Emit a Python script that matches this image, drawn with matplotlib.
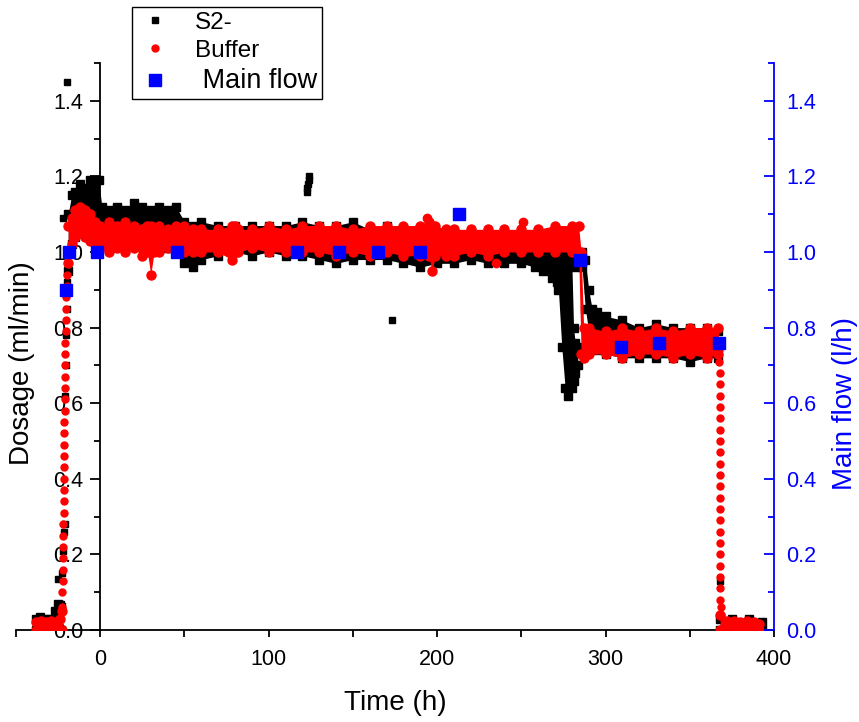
import matplotlib.pyplot as plt
import numpy as np
from matplotlib.lines import Line2D
from matplotlib.ticker import MultipleLocator, FormatStrFormatter

plt.rcParams['font.family'] = ['Liberation Sans', 'DejaVu Sans']

# S2- dosage (ml/min): time (h) with lower / upper edge of the dense point cloud
s2_t = [-19, -17, -15, -12, -9, -6, -3, -1, 1, 5, 10, 15, 20, 25, 30, 35, 40, 45,
        50, 55, 60, 70, 80, 90, 100, 110, 120, 130, 140, 150, 160, 170, 180, 190,
        200, 210, 220, 230, 240, 250, 258, 263, 268, 271, 274, 278, 282, 286, 288,
        290, 292, 295, 300, 310, 320, 330, 340, 350, 360, 367]
s2_hi = [1.10, 1.15, 1.16, 1.18, 1.17, 1.19, 1.18, 1.19, 1.12, 1.11, 1.12, 1.11, 1.13,
         1.12, 1.11, 1.12, 1.11, 1.12, 1.08, 1.07, 1.08, 1.07, 1.07, 1.07, 1.07, 1.07,
         1.08, 1.07, 1.07, 1.08, 1.06, 1.07, 1.06, 1.06, 1.05, 1.05, 1.05, 1.04, 1.04,
         1.04, 1.03, 1.02, 1.01, 1.00, 0.99, 0.99, 1.00, 1.00, 0.98, 0.90, 0.85, 0.84,
         0.83, 0.82, 0.80, 0.81, 0.80, 0.80, 0.80, 0.79]
s2_lo = [0.95, 1.02, 1.04, 1.05, 1.05, 1.05, 1.04, 1.04, 1.02, 1.02, 1.02, 1.02, 1.02,
         1.02, 1.02, 1.02, 1.01, 1.00, 0.97, 0.96, 0.98, 0.99, 1.00, 0.99, 1.00, 0.99,
         0.99, 0.98, 0.97, 0.98, 0.98, 0.98, 0.97, 0.96, 0.97, 0.97, 0.98, 0.97, 0.97,
         0.97, 0.96, 0.95, 0.93, 0.92, 0.95, 0.96, 0.96, 0.96, 0.85, 0.79, 0.76, 0.74,
         0.73, 0.72, 0.72, 0.72, 0.72, 0.71, 0.72, 0.72]
# S2- dip before the flow change
s2_dip_t = [270, 272, 274, 276, 278, 280, 281, 282, 283.5]
s2_dip_lo = [0.95, 0.90, 0.75, 0.64, 0.62, 0.64, 0.66, 0.68, 0.70]
s2_dip_hi = [0.99, 0.98, 0.98, 0.98, 0.97, 0.97, 0.80, 0.76, 0.75]
# S2- start-up / shut-down baseline
s2_base1_t = [-38, -36, -33, -30, -27, -25, -23]
s2_base1_hi = [0.03, 0.035, 0.03, 0.03, 0.05, 0.07, 0.06]
s2_base2_t = [368, 375, 385, 393]
s2_base2_hi = [0.03, 0.03, 0.03, 0.02]
# S2- single points (ramp and outliers)
s2_pts_t = [-25, -23.5, -22.5, -22, -21.5, -21.2, -20.8, -20.5, -20.2, -20, -19.8,
            -22, -20, 123, 123, 123.5, 124, 124, 173, 368, 367.5]
s2_pts_y = [0.135, 0.07, 0.15, 0.21, 0.26, 0.28, 0.62, 0.70, 0.78, 0.85, 0.92,
            1.09, 1.45, 1.16, 1.17, 1.18, 1.19, 1.20, 0.82, 0.13, 0.76]

# Buffer dosage (ml/min)
buf_t = [-19, -17, -15, -12, -9, -6, -3, 0, 5, 10, 15, 20, 25, 28, 30, 32, 35, 40, 45,
         50, 55, 60, 70, 78, 80, 82, 90, 100, 110, 120, 130, 140, 150, 160, 170, 180,
         190, 195, 197, 199, 205, 210, 220, 230, 240, 250, 260, 270, 280, 284, 285.5,
         287, 290, 300, 310, 320, 330, 340, 350, 360, 367]
buf_lo = [0.97, 1.02, 1.04, 1.05, 1.04, 1.03, 1.02, 1.01, 1.00, 1.01, 1.00, 1.01, 0.99,
          1.00, 0.94, 1.00, 1.00, 1.01, 1.00, 1.00, 1.00, 1.00, 1.00, 0.98, 1.00, 1.00,
          1.01, 1.00, 1.00, 1.00, 1.00, 0.99, 1.00, 0.99, 1.00, 0.99, 0.99, 0.99, 0.95,
          0.99, 0.99, 0.99, 1.00, 0.99, 1.00, 1.00, 1.00, 1.00, 1.00, 1.00, 0.73, 0.72,
          0.73, 0.73, 0.72, 0.73, 0.73, 0.72, 0.73, 0.72, 0.73]
buf_hi = [1.07, 1.09, 1.11, 1.12, 1.11, 1.10, 1.08, 1.07, 1.08, 1.07, 1.08, 1.07, 1.06,
          1.07, 1.07, 1.06, 1.07, 1.06, 1.07, 1.07, 1.06, 1.06, 1.06, 1.07, 1.07, 1.06,
          1.06, 1.07, 1.06, 1.07, 1.07, 1.07, 1.06, 1.07, 1.07, 1.07, 1.07, 1.08, 1.07,
          1.07, 1.06, 1.06, 1.06, 1.06, 1.06, 1.06, 1.06, 1.07, 1.07, 1.07, 1.00, 0.80,
          0.80, 0.79, 0.80, 0.79, 0.80, 0.79, 0.80, 0.80, 0.80]
buf_base1_t = [-38, -35, -32, -29, -26, -24, -22.5]
buf_base1_hi = [0.02, 0.025, 0.02, 0.025, 0.02, 0.03, 0.05]
buf_base2_t = [368, 372, 376, 380, 384, 388, 391]
buf_base2_hi = [0.04, 0.025, 0.025, 0.02, 0.025, 0.02, 0.015]
# Buffer ramp up at start, drop at shut-down, outliers
buf_rise_t = [-22.5, -22.4, -22.3, -22.2, -22.1, -22.0, -22.0, -21.9, -21.8, -21.8,
              -21.7, -21.6, -21.6, -21.5, -21.4, -21.3, -21.3, -21.2, -21.1, -21.0,
              -21.0, -20.9, -20.8, -20.7, -20.6, -20.5, -20.4, -20.2, -20.0, -19.8]
buf_rise_y = [0.06, 0.10, 0.13, 0.16, 0.19, 0.22, 0.25, 0.28, 0.31, 0.34, 0.37, 0.40,
              0.43, 0.46, 0.49, 0.52, 0.55, 0.58, 0.61, 0.64, 0.67, 0.70, 0.73, 0.76,
              0.79, 0.82, 0.85, 0.88, 0.91, 0.94]
buf_drop_t = [367.6, 367.6, 367.7, 367.7, 367.7, 367.8, 367.8, 367.8, 367.9, 367.9,
              367.9, 368.0, 368.0, 368.0, 368.0, 368.1, 368.1, 368.1, 368.1, 368.2,
              368.2, 368.2, 368.2, 368.3, 368.3]
buf_drop_y = [0.74, 0.71, 0.68, 0.65, 0.62, 0.59, 0.56, 0.53, 0.50, 0.47, 0.44, 0.41,
              0.38, 0.35, 0.32, 0.29, 0.26, 0.23, 0.20, 0.17, 0.14, 0.11, 0.08, 0.06, 0.04]
buf_out_t = [194, 235, 251]
buf_out_y = [1.09, 0.97, 1.08]

# Main flow (l/h)
flow_t = [-20.5, -18.5, -2, 45.5, 117, 142, 165, 190, 213, 285, 309, 332, 367.5]
flow = [0.90, 1.00, 1.00, 1.00, 1.00, 1.00, 1.00, 1.00, 1.10, 0.98, 0.75, 0.76, 0.76]

fig, ax = plt.subplots(figsize=(8.59, 7.22), dpi=100)
fig.subplots_adjust(left=16/859, right=774/859, bottom=1-630/722, top=1-63/722)
ax2 = ax.twinx()

# S2- (black)
for t, lo, hi in [(s2_t, s2_lo, s2_hi), (s2_dip_t, s2_dip_lo, s2_dip_hi),
                  (s2_base1_t, [0]*len(s2_base1_t), s2_base1_hi),
                  (s2_base2_t, [0]*len(s2_base2_t), s2_base2_hi)]:
    ax.fill_between(t, lo, hi, color='black', lw=0, zorder=2)
    ax.plot(t, hi, 's', color='black', ms=5.5, zorder=2)
    ax.plot(t, lo, 's', color='black', ms=5.5, zorder=2)
ax.plot(s2_pts_t, s2_pts_y, 's', color='black', ms=4.5, zorder=2)

# Buffer (red)
for t, lo, hi in [(buf_t, buf_lo, buf_hi),
                  (buf_base1_t, [0]*len(buf_base1_t), buf_base1_hi),
                  (buf_base2_t, [0]*len(buf_base2_t), buf_base2_hi)]:
    ax.fill_between(t, lo, hi, color='red', lw=0, zorder=3)
    ax.plot(t, hi, 'o', color='red', ms=6.5, zorder=3)
    ax.plot(t, lo, 'o', color='red', ms=6.5, zorder=3)
ax.plot(buf_rise_t, buf_rise_y, 'o', color='red', ms=5, zorder=3)
ax.plot(buf_drop_t, buf_drop_y, 'o', color='red', ms=5, zorder=3)
ax.plot(buf_out_t, buf_out_y, 'o', color='red', ms=6, zorder=3)

# Main flow (blue, right axis)
ax2.plot(flow_t, flow, 's', color='blue', ms=9, zorder=4)

ax.set_xlim(-50, 400)
ax.set_ylim(0, 1.5)
ax2.set_ylim(0, 1.5)

ax.spines['left'].set_position(('data', 0))
ax.spines['top'].set_visible(False)
ax.spines['right'].set_visible(False)
for s in ['left', 'top', 'bottom']:
    ax2.spines[s].set_visible(False)
ax2.spines['right'].set_color('blue')
for s in ['left', 'bottom']:
    ax.spines[s].set_linewidth(1.3)
ax2.spines['right'].set_linewidth(1.3)

ax.xaxis.set_major_locator(MultipleLocator(100))
ax.xaxis.set_minor_locator(MultipleLocator(50))
ax.yaxis.set_major_locator(MultipleLocator(0.2))
ax.yaxis.set_minor_locator(MultipleLocator(0.1))
ax.yaxis.set_major_formatter(FormatStrFormatter('%.1f'))
ax2.yaxis.set_major_locator(MultipleLocator(0.2))
ax2.yaxis.set_minor_locator(MultipleLocator(0.1))
ax2.yaxis.set_major_formatter(FormatStrFormatter('%.1f'))

ax.tick_params(axis='x', which='both', direction='out', length=5, width=1.3,
               labelsize=15.5, pad=9)
ax.tick_params(axis='y', which='major', direction='out', length=7, width=1.3,
               labelsize=15.5, pad=5)
ax.tick_params(axis='y', which='minor', direction='out', length=4, width=1.3)
ax2.tick_params(axis='y', which='major', direction='in', length=7, width=1.3,
                color='blue', labelcolor='blue', labelsize=15.5, pad=9)
ax2.tick_params(axis='y', which='minor', direction='in', length=4, width=1.3,
                color='blue')

ax.set_xlabel('Time (h)', fontsize=20)
ax.xaxis.set_label_coords(0.5, -0.105)
ax.set_ylabel('Dosage (ml/min)', fontsize=20)
ax.yaxis.set_label_coords(0.025, 0.47)
ax2.set_ylabel('Main flow (l/h)', fontsize=20, color='blue')
ax2.yaxis.set_label_coords(1.077, 0.40)

handles = [Line2D([], [], ls='none', marker='s', color='black', ms=5),
           Line2D([], [], ls='none', marker='o', color='red', ms=5),
           Line2D([], [], ls='none', marker='s', color='blue', ms=9)]
leg = ax2.legend(handles, ['S2-', 'Buffer', ' Main flow'], loc='upper left',
                 bbox_to_anchor=(132/859, 1-7/722), bbox_transform=fig.transFigure,
                 fancybox=False, edgecolor='black', framealpha=1, borderaxespad=0,
                 borderpad=0.2, labelspacing=0.25, handletextpad=0.9,
                 handlelength=1.5, fontsize=17.5)
leg.get_frame().set_linewidth(1.0)
leg.get_texts()[2].set_fontsize(19.5)

fig.savefig('out.png', dpi=100)
